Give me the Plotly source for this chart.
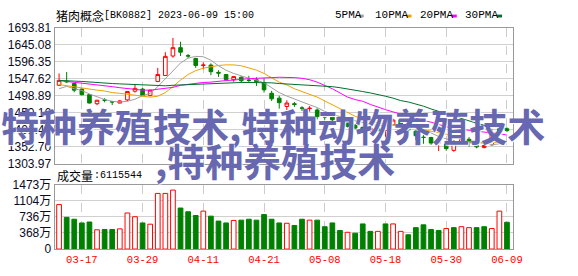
import plotly.graph_objects as go

dates = ["03-14","03-15","03-16","03-17","03-20","03-21","03-22","03-23","03-24","03-27",
         "03-28","03-29","03-30","03-31","04-03","04-04","04-06","04-07","04-10","04-11",
         "04-12","04-13","04-14","04-17","04-18","04-19","04-20","04-21","04-24","04-25",
         "04-26","04-27","04-28","05-04","05-05","05-08","05-09","05-10","05-11","05-12",
         "05-15","05-16","05-17","05-18","05-19","05-22","05-23","05-24","05-25","05-26",
         "05-29","05-30","05-31","06-01","06-02","06-05","06-06","06-07","06-08","06-09"]

opens  = [1529,1541,1534,1518,1502,1476,1487,1482,1478,1487,1512,1518,1500,1540,1557,1613,1637,1614,1606,1586,
          1587,1566,1560,1545,1552,1544,1545,1536,1506,1492,1468,1476,1464,1462,1458,1440,1438,1425,1422,1414,
          1408,1398,1406,1399,1416,1430,1413,1397,1380,1379,1363,1360,1342,1365,1374,1363,1350,1358,1404,1404]
highs  = [1563,1567,1535,1519,1503,1487,1492,1484,1487,1512,1533,1521,1516,1579,1624,1665,1654,1619,1608,1595,
          1592,1572,1561,1554,1555,1556,1552,1549,1513,1499,1486,1481,1469,1469,1463,1444,1441,1433,1425,1418,
          1410,1410,1409,1420,1433,1432,1415,1400,1386,1381,1366,1362,1372,1378,1380,1367,1358,1404,1408,1408]
lows   = [1527,1536,1509,1500,1477,1472,1480,1472,1477,1483,1508,1498,1497,1538,1556,1608,1613,1607,1579,1575,
          1558,1553,1542,1539,1536,1536,1527,1508,1484,1462,1458,1467,1455,1453,1431,1430,1426,1421,1408,1403,
          1398,1395,1396,1381,1412,1412,1398,1372,1361,1358,1340,1341,1338,1364,1353,1348,1348,1356,1395,1395]
closes = [1543,1539,1515,1502,1478,1486,1486,1481,1484,1511,1520,1499,1515,1560,1612,1637,1624,1613,1586,1587,
          1568,1564,1545,1554,1542,1543,1539,1516,1490,1479,1478,1474,1463,1463,1439,1438,1430,1430,1411,1406,
          1401,1406,1399,1417,1429,1416,1401,1384,1379,1363,1365,1347,1365,1376,1365,1352,1356,1390,1399,1399]

volume_wan = [1015,723,681,596,617,440,447,447,461,823,738,596,568,1270,1270,1346,936,851,766,866,
              751,638,596,653,660,681,660,787,681,596,589,538,681,660,660,510,596,425,383,362,
              574,404,404,574,574,404,326,489,553,447,425,468,489,510,489,489,510,468,866,611.55]
vol_up = [1,0,0,0,0,1,0,0,1,1,1,0,1,1,1,1,0,0,0,1,
          0,0,0,1,0,0,0,0,0,0,1,0,0,1,0,0,0,0,1,0,
          0,0,1,0,1,1,0,0,0,0,0,1,0,1,1,0,0,1,1,0]

ma5 = [1519,1526,1519,1514,1504,1496,1488,1483,1481,1483,1489,1499,1506,1525,1547,1571,1593,1607,1612,1611,
       1601,1585,1572,1563,1555,1549,1544,1536,1522,1508,1498,1489,1481,1473,1465,1454,1446,1438,1432,1427,
       1421,1417,1414,1413,1412,1413,1414,1410,1402,1391,1382,1375,1368,1363,1363,1365,1363,1358,1361,1367]
ma10 = [1531,1527.5,1525,1522,1518,1515,1512.5,1508,1506,1503,1500,1497.5,1495,1497.5,1508,1525,1544,1560,1571,1578,
        1583,1586,1587.5,1587.5,1585,1579,1572.5,1563,1551,1538,1530,1519,1511,1503,1495,1484,1473,1463,1451,1440,
        1432,1425,1421,1418.5,1417,1414,1410,1406,1402,1398,1394,1388.5,1380,1373,1367,1364,1363,1364,1365,1367]
ma20 = [1542.5,1540,1538,1536,1533,1532,1529,1525,1522,1519,1517,1515,1515,1517,1519,1523,1529,1532,1534,1537,
        1538,1541,1542.5,1544,1547,1548,1549,1551,1551,1552,1552,1551,1549,1545,1538,1529,1519,1507,1495,1488,
        1483,1474,1466,1459,1452.5,1446,1440,1435,1428,1423,1416,1410,1405,1402,1399,1397,1395,1392,1390,1386]
ma30 = [1543,1543,1541,1540,1538,1537,1536,1534,1533,1532,1532,1530,1529,1527.5,1527.5,1529,1530,1532,1533,1533.5,
        1534,1535,1536,1536,1537,1537,1537,1536,1536,1534,1533,1532,1530,1529,1527.5,1526,1525,1522,1519,1515,
        1511,1507,1503,1497.5,1492,1485,1481,1476,1469,1461,1454,1447,1439,1432,1425,1420,1414,1410,1407.5,1405]

price_ticks = [1303.97,1352.70,1401.43,1450.16,1498.89,1547.62,1596.35,1645.08,1693.81]
vol_ticks = [0,368,736,1104,1473]
vol_tick_text = ["0","368万","736万","1104万","1473万"]
date_ticks = ["03-17","03-29","04-11","04-21","05-08","05-18","05-30","06-09"]

title_cn = "猪肉概念"
title_rest = "[BK0882] 2023-06-09 15:00"
vol_label_cn = "成交量"
vol_label_num = ":6115544"
ma_names = ["5PMA","10PMA","20PMA","30PMA"]
ma_colors = ["#a0a0a0","#f0a000","#ff00ff","#00702e"]
watermark1 = "特种养殖技术,特种动物养殖技术"
watermark2 = ",特种养殖技术"

W, H = 578, 276
def px(x): return x / W
def py(y): return 1 - y / H

RED = "#ff0000"
GRN = "#008000"

fig = go.Figure()
fig.add_trace(go.Candlestick(
    x=dates, open=opens, high=highs, low=lows, close=closes,
    increasing=dict(line=dict(color=RED, width=1), fillcolor="#ffffff"),
    decreasing=dict(line=dict(color=GRN, width=1), fillcolor=GRN),
    whiskerwidth=0, xaxis="x", yaxis="y", hoverinfo="skip", showlegend=False))

for vals, col in zip([ma5, ma10, ma20, ma30], ma_colors):
    fig.add_trace(go.Scatter(x=dates, y=vals, mode="lines", line=dict(color=col, width=1),
                             xaxis="x", yaxis="y", hoverinfo="skip", showlegend=False))

fig.add_trace(go.Bar(
    x=dates, y=volume_wan, width=0.62,
    marker=dict(color=["#ffffff" if u else GRN for u in vol_up],
                line=dict(color=[RED if u else GRN for u in vol_up], width=1)),
    xaxis="x2", yaxis="y2", hoverinfo="skip", showlegend=False))

xr = [-0.585, 59.845]
common_x = dict(type="category", range=xr, domain=[px(55.5), px(521.5)],
                tickmode="array", tickvals=date_ticks, showgrid=True,
                gridcolor="#cccccc", griddash="dash", gridwidth=1,
                showline=True, linecolor="#999999", linewidth=1, mirror=True,
                ticks="", zeroline=False, fixedrange=True)

fig.update_layout(
    width=W, height=H, margin=dict(l=0, r=0, t=0, b=0),
    paper_bgcolor="#ffffff", plot_bgcolor="#ffffff",
    boxgap=0.32, bargap=0.3,
    xaxis=dict(**common_x, anchor="y", showticklabels=False, rangeslider=dict(visible=False)),
    xaxis2=dict(**common_x, anchor="y2", showticklabels=True,
                tickfont=dict(family="Liberation Mono", size=10.5, color=RED)),
    yaxis=dict(domain=[py(165), py(22)], range=[1303.97, 1693.81], tickmode="array",
               tickvals=price_ticks, ticktext=[f"{v:.2f}" for v in price_ticks],
               showgrid=True, gridcolor="#d0d0d0", gridwidth=1, zeroline=False,
               showline=True, linecolor="#999999", mirror=True, ticks="",
               tickfont=dict(family="Liberation Sans", size=12, color="#0a0a22"), fixedrange=True),
    yaxis2=dict(domain=[py(255), py(187)], range=[0, 1473], tickmode="array",
                tickvals=vol_ticks, ticktext=vol_tick_text,
                showgrid=True, gridcolor="#d0d0d0", gridwidth=1, zeroline=False,
                showline=True, linecolor="#999999", mirror=True, ticks="",
                tickfont=dict(family="Liberation Sans, Noto Sans CJK SC", size=12, color="#0a0a22"),
                fixedrange=True),
)

ann = []
ann.append(dict(text=title_cn, x=px(55), y=py(8.5), xref="paper", yref="paper", xanchor="left",
                yanchor="middle", showarrow=False, font=dict(family="Noto Sans CJK SC", size=12, color="#000000")))
ann.append(dict(text=title_rest, x=px(104), y=py(8.5), xref="paper", yref="paper", xanchor="left",
                yanchor="middle", showarrow=False, font=dict(family="Liberation Mono", size=10, color="#000000")))
ann.append(dict(text=vol_label_cn, x=px(56), y=py(177.5), xref="paper", yref="paper", xanchor="left",
                yanchor="middle", showarrow=False, font=dict(family="Noto Sans CJK SC", size=12, color="#000000")))
ann.append(dict(text=vol_label_num, x=px(93), y=py(177.5), xref="paper", yref="paper", xanchor="left",
                yanchor="middle", showarrow=False, font=dict(family="Liberation Mono", size=10, color="#000000")))

leg_x = [338, 379, 425, 470]
sq_x = [364.5, 413, 459, 505]
shapes = []
for name, lx, sx, col in zip(ma_names, leg_x, sq_x, ma_colors):
    ann.append(dict(text=name, x=px(lx), y=py(8.5), xref="paper", yref="paper", xanchor="left",
                    yanchor="middle", showarrow=False,
                    font=dict(family="Liberation Mono", size=11, color="#000000")))
    shapes.append(dict(type="rect", xref="paper", yref="paper", x0=px(sx), x1=px(sx + 5),
                       y0=py(11), y1=py(8), fillcolor=col, line=dict(width=0)))

ann.append(dict(text=watermark1, x=px(277), y=py(124), xref="paper", yref="paper", xanchor="center",
                yanchor="middle", showarrow=False,
                font=dict(family="Noto Sans CJK SC", size=38, color="#6868b0", weight="bold",
                          shadow="1px 1px 1px #ffffff")))
ann.append(dict(text=watermark2, x=px(279), y=py(161), xref="paper", yref="paper", xanchor="center",
                yanchor="middle", showarrow=False,
                font=dict(family="Noto Sans CJK SC", size=38, color="#6868b0", weight="bold",
                          shadow="1px 1px 1px #ffffff")))

fig.update_layout(annotations=ann, shapes=shapes)
fig.write_html("out.html", config={"displayModeBar": False, "staticPlot": True})
